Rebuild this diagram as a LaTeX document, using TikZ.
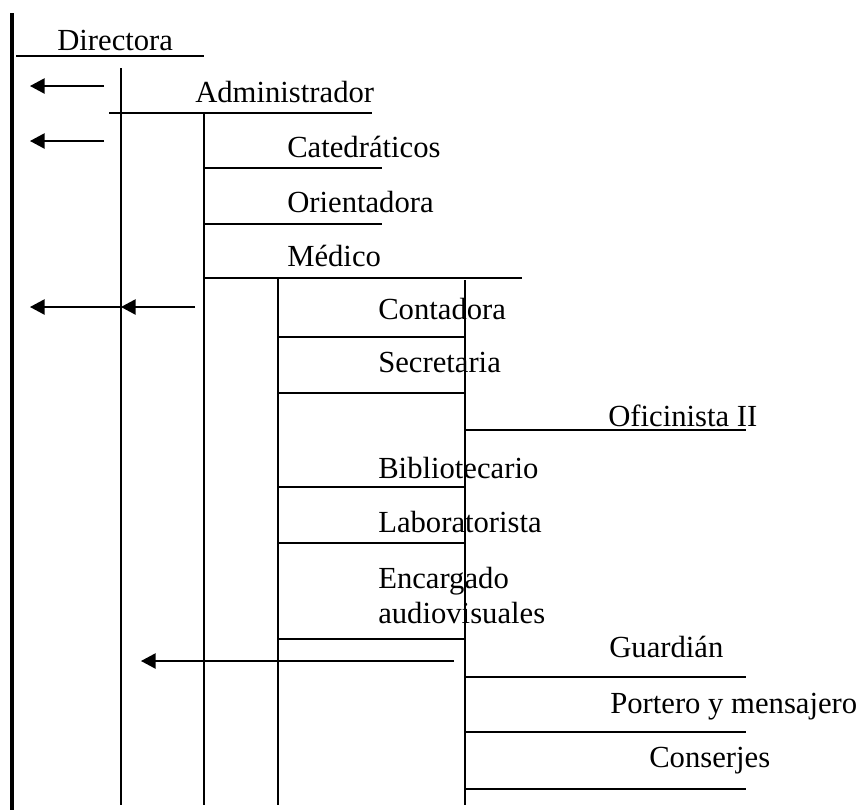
\documentclass[tikz,border=0pt]{standalone}
\usepackage{fontspec}
\setmainfont{Liberation Serif}
\usetikzlibrary{arrows.meta}
\begin{document}
\begin{tikzpicture}[x=0.75pt,y=-0.75pt,
  ln/.style={line width=1.1pt},
  thick line/.style={line width=3pt},
  lbl/.style={anchor=base west,inner sep=0pt,font=\fontsize{23}{25}\selectfont},
  arr/.style={line width=1.1pt,-{Triangle[length=11pt,width=11.5pt]}}]
\useasboundingbox (0,0) rectangle (863,810);
% vertical lines
\draw[thick line] (12,13) -- (12,810);
\draw[ln] (121,68) -- (121,805);
\draw[ln] (204,113) -- (204,805);
\draw[ln] (278,278) -- (278,805);
\draw[ln] (465,280) -- (465,805);
% labels
\node[lbl] (dir) at (57,50) {Directora};
\node[lbl] (adm) at (195,102) {Administrador};
\node[lbl] (cat) at (287,157) {Catedráticos};
\node[lbl] (ori) at (287,212) {Orientadora};
\node[lbl] (med) at (287,266) {Médico};
\node[lbl] (con) at (378,319) {Contadora};
\node[lbl] (sec) at (378,372) {Secretaria};
\node[lbl] (ofi) at (608,426) {Oficinista II};
\node[lbl] (bib) at (378,478) {Bibliotecario};
\node[lbl] (lab) at (378,532) {Laboratorista};
\node[lbl] (enc) at (378,588) {Encargado};
\node[lbl] (aud) at (378,623) {audiovisuales};
\node[lbl] (gua) at (609,657) {Guardián};
\node[lbl] (por) at (610,713) {Portero y mensajero};
\node[lbl] (cns) at (649,767) {Conserjes};
% underlines
\draw[ln] (16,56) -- (204,56);
\draw[ln] (109,113) -- (372,113);
\draw[ln] (204,168) -- (382,168);
\draw[ln] (204,224) -- (382,224);
\draw[ln] (204,278) -- (522,278);
\draw[ln] (278,337) -- (465,337);
\draw[ln] (278,393) -- (465,393);
\draw[ln] (465,430) -- (746,430);
\draw[ln] (278,487) -- (465,487);
\draw[ln] (278,543) -- (465,543);
\draw[ln] (278,639) -- (465,639);
\draw[ln] (465,677) -- (746,677);
\draw[ln] (465,732) -- (746,732);
\draw[ln] (465,789) -- (746,789);
% arrows
\coordinate (a1s) at (104,86);  \coordinate (a1e) at (30,86);
\coordinate (a2s) at (104,141); \coordinate (a2e) at (30,141);
\coordinate (a3s) at (195,307); \coordinate (a3m) at (121,307); \coordinate (a3e) at (30,307);
\coordinate (a4s) at (454,661); \coordinate (a4e) at (141,661);
\draw[arr] (a1s) -- (a1e);
\draw[arr] (a2s) -- (a2e);
\draw[arr] (a3s) -- (a3m);
\draw[arr] (a3m) -- (a3e);
\draw[arr] (a4s) -- (a4e);
\end{tikzpicture}
\end{document}
